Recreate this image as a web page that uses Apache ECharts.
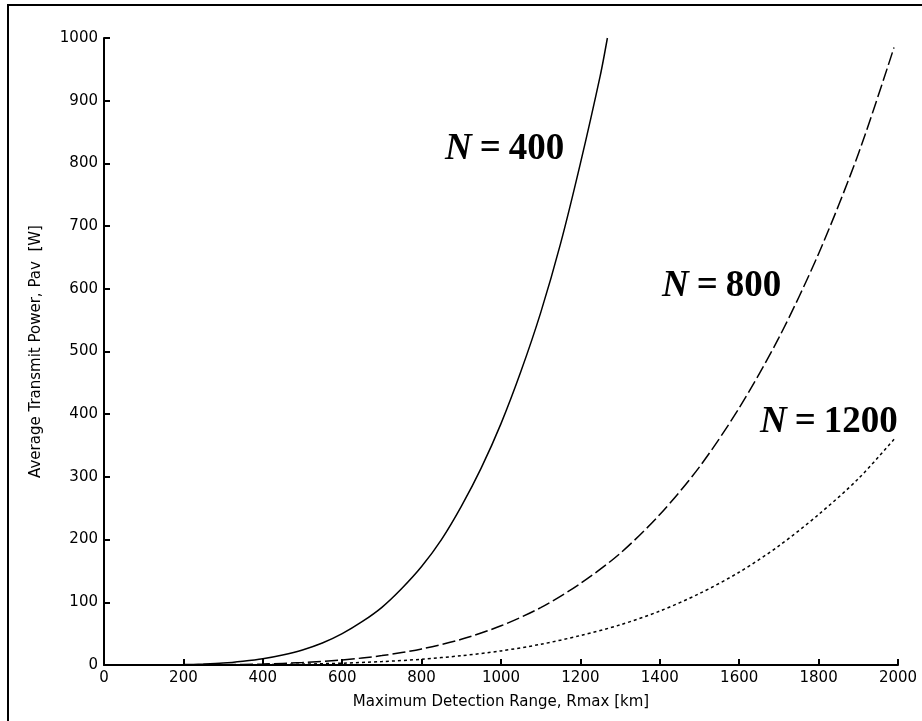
<!DOCTYPE html>
<html>
<head>
<meta charset="utf-8">
<script src="https://cdn.jsdelivr.net/npm/echarts@6/dist/echarts.min.js"></script>
<style>
  html, body { margin: 0; padding: 0; background: #fff; }
  #chart { width: 922px; height: 721px; }
</style>
</head>
<body>
<div id="chart"></div>
<script>
// range values (km)
var range400 = [0, 50, 100, 150, 200, 250, 300, 350, 400, 450, 500, 550, 600, 650, 700, 750, 800, 850, 900, 950, 1000, 1050, 1100, 1150, 1200, 1250, 1268];
var power400 = [0, 0, 0, 0.2, 0.6, 1.5, 3, 6, 10, 16, 24, 35, 50, 69, 92, 122, 157, 200, 253, 314, 385, 468, 562, 672, 800, 940, 1000];

var range800 = [0, 100, 200, 300, 400, 500, 600, 700, 800, 900, 1000, 1100, 1200, 1300, 1400, 1500, 1600, 1700, 1800, 1900, 1990];
var power800 = [0, 0, 0, 0.5, 1.6, 3.9, 8, 15, 25.6, 41, 62.5, 91.5, 130, 178, 240, 316, 410, 522, 656, 815, 985];

var range1200 = [0, 100, 200, 300, 400, 500, 600, 700, 800, 900, 1000, 1100, 1200, 1300, 1400, 1500, 1600, 1700, 1800, 1900, 1990];
var power1200 = [0, 0, 0, 0.2, 0.6, 1.4, 2.9, 5.4, 9.2, 14.8, 22.5, 33, 47, 64, 86, 114, 148, 190, 240, 297, 360];

var curveLabels = ['400', '800', '1200'];

function pairs(xs, ys) {
    var out = [];
    for (var i = 0; i < xs.length; i++) out.push([xs[i], ys[i]]);
    return out;
}

// the "N = ..." tags next to each curve
function nLabel(n, left, top) {
    return {
        type: 'text',
        left: left,
        top: top,
        style: {
            text: '{n|N}{e|=}{v|' + n + '}',
            fill: '#000',
            rich: {
                n: { fontFamily: 'Liberation Serif', fontStyle: 'italic', fontWeight: 'bold', fontSize: 37, fill: '#000' },
                e: { fontFamily: 'Liberation Serif', fontWeight: 'bold', fontSize: 37, fill: '#000', padding: [0, 8, 0, 8] },
                v: { fontFamily: 'Liberation Serif', fontWeight: 'bold', fontSize: 37, fill: '#000' }
            }
        }
    };
}

var myChart = echarts.init(document.getElementById('chart'));

var axisFont = { fontFamily: 'DejaVu Sans', fontSize: 15, color: '#000', formatter: function (v) { return String(v); } };

var option = {
    backgroundColor: '#fff',
    animation: false,
    grid: { left: 104, right: 24, top: 38, bottom: 56 },
    xAxis: {
        type: 'value',
        min: 0, max: 2000, interval: 200,
        name: 'Maximum Detection Range, Rmax [km]',
        nameLocation: 'middle',
        nameGap: 30,
        nameTextStyle: { fontFamily: 'DejaVu Sans', fontSize: 15, color: '#000' },
        axisLine: { show: true, lineStyle: { color: '#000', width: 2 } },
        axisTick: { show: true, inside: true, length: 6, lineStyle: { color: '#000', width: 2 } },
        axisLabel: Object.assign({ margin: 6 }, axisFont),
        splitLine: { show: false }
    },
    yAxis: {
        type: 'value',
        min: 0, max: 1000, interval: 100,
        name: 'Average Transmit Power, Pav  [W]',
        nameLocation: 'middle',
        nameGap: 60,
        nameTextStyle: { fontFamily: 'DejaVu Sans', fontSize: 15, color: '#000' },
        axisLine: { show: true, lineStyle: { color: '#000', width: 2 } },
        axisTick: { show: true, inside: true, length: 6, lineStyle: { color: '#000', width: 2 } },
        axisLabel: Object.assign({ margin: 6 }, axisFont),
        splitLine: { show: false }
    },
    series: [
        {
            name: 'N = ' + curveLabels[0],
            type: 'line',
            showSymbol: false,
            smooth: 0.3,
            lineStyle: { color: '#000', width: 1.5, type: 'solid' },
            data: pairs(range400, power400)
        },
        {
            name: 'N = ' + curveLabels[1],
            type: 'line',
            showSymbol: false,
            smooth: 0.3,
            lineStyle: { color: '#000', width: 1.5, type: [13, 4] },
            data: pairs(range800, power800)
        },
        {
            name: 'N = ' + curveLabels[2],
            type: 'line',
            showSymbol: false,
            smooth: 0.3,
            lineStyle: { color: '#000', width: 1.5, type: [3, 3] },
            data: pairs(range1200, power1200)
        }
    ],
    graphic: [
        {
            type: 'rect',
            shape: { x: 8, y: 5, width: 930, height: 740 },
            style: { fill: null, stroke: '#000', lineWidth: 2 },
            silent: true
        },
        nLabel(curveLabels[0], 445, 131),
        nLabel(curveLabels[1], 662, 268),
        nLabel(curveLabels[2], 760, 404)
    ]
};

myChart.setOption(option);
</script>
</body>
</html>
